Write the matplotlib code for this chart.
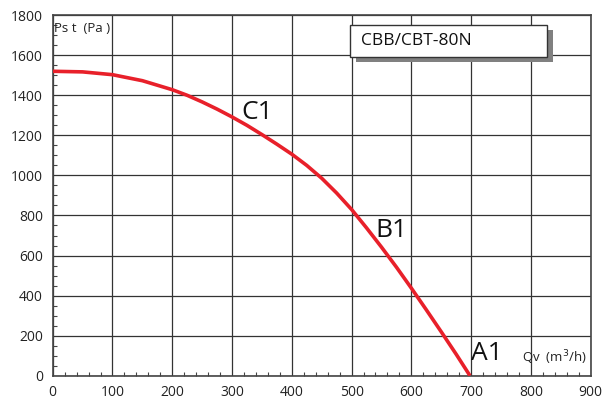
import numpy as np
import matplotlib.pyplot as plt
from matplotlib.ticker import MultipleLocator
from matplotlib.patches import Rectangle

plt.rcParams['font.family'] = ['Open Sans', 'DejaVu Sans']

# curve
qv = [0, 50, 100, 150, 200, 225, 250, 275, 300, 325, 350, 375, 400, 425, 450, 475, 500,
      525, 550, 575, 600, 625, 650, 675, 698]
pst = [1520, 1517, 1503, 1473, 1428, 1400, 1367, 1331, 1292, 1250, 1204, 1156, 1106, 1050, 986,
       912, 830, 738, 642, 542, 437, 329, 219, 107, 0]

labels = ['C1', 'B1', 'A1']
label_x = [343, 567, 727]
label_y = [1315, 723, 113]

fig = plt.figure(figsize=(6.02, 3.99), dpi=100)
ax = fig.add_axes([52.7 / 602, 1 - 375.7 / 399, 538 / 602, 360.5 / 399])

ax.plot(qv, pst, color='#e8202a', lw=2.6, solid_capstyle='butt', solid_joinstyle='round', zorder=3)

ax.set_xlim(0, 900)
ax.set_ylim(0, 1800)
ax.xaxis.set_major_locator(MultipleLocator(100))
ax.xaxis.set_minor_locator(MultipleLocator(20))
ax.yaxis.set_major_locator(MultipleLocator(200))
ax.yaxis.set_minor_locator(MultipleLocator(50))
ax.tick_params(which='major', length=0, labelsize=10, pad=7, colors='#222222')
ax.tick_params(which='minor', direction='in', length=3, width=0.8, color='#444444')
ax.grid(True, which='major', color='#333333', lw=0.9)
for s in ax.spines.values():
    s.set_color('#444444')
    s.set_linewidth(1.2)

for t, x, y in zip(labels, label_x, label_y):
    ax.text(x, y, t, fontsize=19, ha='center', va='center', color='#111111', zorder=4)

ax.text(3, 1765, 'Ps t  (Pa )', fontsize=9.5, ha='left', va='top', color='#222222')
ax.text(893, 45, 'Qv  (m$^3$/h)', fontsize=9.5, ha='right', va='bottom', color='#222222')

# title box with shadow
bx0 = (350 - 52.7) / 538 * 900
bx1 = (547 - 52.7) / 538 * 900
by0 = (375.7 - 57) / 360.5 * 1800
by1 = (375.7 - 25) / 360.5 * 1800
ax.add_patch(Rectangle((bx0 + 10, by0 - 25), bx1 - bx0, by1 - by0, facecolor='#808080',
                       edgecolor='none', zorder=5))
ax.add_patch(Rectangle((bx0, by0), bx1 - bx0, by1 - by0, facecolor='white',
                       edgecolor='#333333', lw=1.0, zorder=6))
ax.text(bx0 + 18, (by0 + by1) / 2, 'CBB/CBT-80N', fontsize=12.5, ha='left', va='center',
        color='#111111', zorder=7)

fig.savefig('out.png', dpi=100)
